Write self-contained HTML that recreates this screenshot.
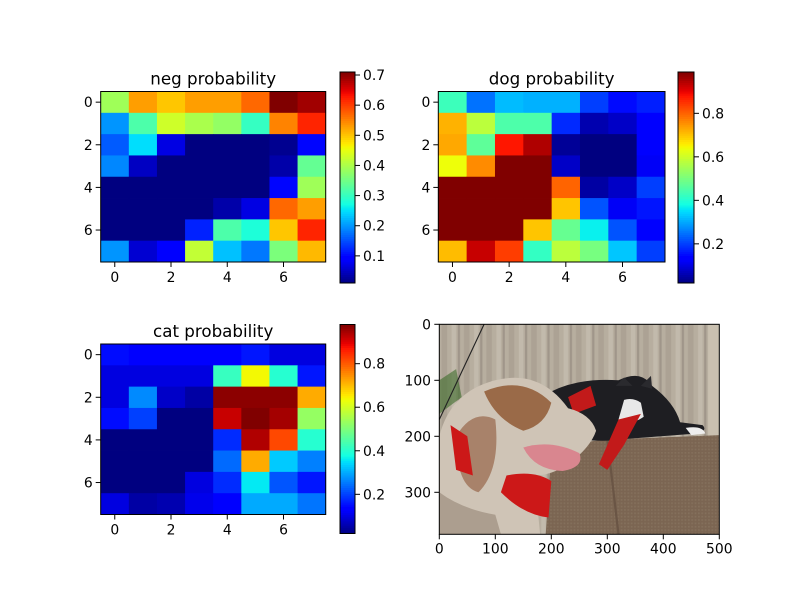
<!DOCTYPE html>
<html><head><meta charset="utf-8"><style>
body{margin:0;background:#fff}
svg{display:block;font-family:"DejaVu Sans","Liberation Sans",sans-serif}
</style></head><body>
<svg id="fig" width="800" height="600" viewBox="0 0 800 600">
<rect width="800" height="600" fill="#fff"/>
<g id="photo-axes">
<svg x="439.3" y="324.3" width="280" height="210" viewBox="0 0 500 375" preserveAspectRatio="none">
<defs>
<pattern id="curt" width="40" height="375" patternUnits="userSpaceOnUse"><rect width="40" height="375" fill="#b7ae9f"/><rect x="4" width="10" height="375" fill="#aca294"/><rect x="22" width="8" height="375" fill="#c2baac"/><rect x="33" width="4" height="375" fill="#a0968a"/></pattern>
<pattern id="couch" width="6" height="6" patternUnits="userSpaceOnUse"><rect width="6" height="6" fill="#7b6552"/><rect width="3" height="3" fill="#84705c"/></pattern>
</defs>
<rect width="500" height="375" fill="url(#curt)"/>
<path d="M480 0 L500 0 L500 375 L480 375Z" fill="#c9c0b0"/>
<path d="M200 230 Q260 205 320 205 L500 198 L500 375 L190 375Z" fill="url(#couch)"/>
<path d="M300 205 L320 375" stroke="#6a5545" stroke-width="4"/>
<path d="M200 120 Q250 95 320 100 Q360 80 380 110 Q420 140 430 175 L470 180 Q480 190 460 195 L330 205 Q260 215 210 190Z" fill="#1e1e22"/>
<path d="M315 110 L330 95 L345 110Z M360 110 L378 92 L380 115Z" fill="#2a2a2e"/>
<path d="M330 135 Q345 130 360 140 L365 165 Q345 180 320 170Z" fill="#e8e8e8"/>
<path d="M440 185 Q470 180 475 195 L450 198Z" fill="#eee"/>
<path d="M230 130 L270 110 L280 145 L240 160Z M320 170 L360 160 L330 215 L300 260 L285 250Z" fill="#c21a1a"/>
<path d="M0 200 Q20 120 100 100 Q180 80 230 150 Q270 160 280 190 Q270 220 230 250 Q200 270 170 270 L180 375 L0 375Z" fill="#cfc4b6"/>
<path d="M80 120 Q150 90 200 140 Q190 180 150 190 Q100 170 80 120Z" fill="#9a6a48"/>
<path d="M30 200 Q60 150 100 170 Q110 260 70 300 Q30 290 30 200Z" fill="#a8826a"/>
<path d="M0 300 Q40 330 100 340 L110 375 L0 375Z" fill="#8a7868" opacity="0.5"/>
<path d="M150 220 Q200 205 250 230 Q260 255 220 262 Q170 260 150 220Z" fill="#d9868f"/>
<path d="M120 270 Q170 260 200 280 L195 345 Q150 340 110 300Z M20 180 L50 200 L60 270 L30 260Z" fill="#cc1818"/>
<path d="M0 100 L30 80 L40 130 L0 160Z" fill="#3c6b2a" opacity="0.6"/>
<path d="M0 170 L80 0" stroke="#222" stroke-width="2"/>
</svg>
<rect x="439.3" y="324.3" width="280" height="210" fill="none" stroke="#000" stroke-width="1"/>
</g>
</svg>
<script>
const negValues=[
[0.39,0.53,0.50,0.53,0.53,0.57,0.71,0.69],
[0.20,0.32,0.43,0.40,0.38,0.30,0.55,0.62],
[0.16,0.25,0.07,0.01,0.01,0.01,0.02,0.10],
[0.19,0.05,0.01,0.01,0.01,0.01,0.035,0.34],
[0.01,0.01,0.01,0.01,0.01,0.01,0.10,0.39],
[0.01,0.01,0.01,0.01,0.035,0.07,0.57,0.53],
[0.01,0.01,0.01,0.12,0.32,0.28,0.50,0.62],
[0.20,0.06,0.09,0.42,0.23,0.18,0.36,0.51]];
const dogValues=[
[0.43,0.25,0.32,0.31,0.31,0.20,0.15,0.17],
[0.72,0.58,0.45,0.45,0.18,0.06,0.08,0.14],
[0.73,0.47,0.88,0.95,0.04,0.02,0.02,0.14],
[0.64,0.76,0.99,0.99,0.08,0.02,0.02,0.12],
[0.99,0.99,0.99,0.99,0.80,0.05,0.08,0.20],
[0.99,0.99,0.99,0.99,0.70,0.22,0.12,0.16],
[0.99,0.99,0.99,0.70,0.48,0.37,0.22,0.14],
[0.71,0.93,0.84,0.42,0.58,0.50,0.33,0.20]];
const catValues=[
[0.15,0.14,0.14,0.13,0.13,0.16,0.10,0.10],
[0.10,0.10,0.10,0.10,0.42,0.64,0.40,0.16],
[0.10,0.27,0.08,0.05,0.97,0.97,0.97,0.72],
[0.15,0.20,0.02,0.02,0.92,0.98,0.95,0.53],
[0.02,0.02,0.02,0.02,0.18,0.94,0.82,0.40],
[0.02,0.02,0.02,0.02,0.24,0.72,0.33,0.26],
[0.02,0.02,0.02,0.10,0.18,0.36,0.22,0.16],
[0.10,0.05,0.06,0.11,0.14,0.30,0.30,0.25]];
const negTicks=[0.1,0.2,0.3,0.4,0.5,0.6,0.7];
const probTicks=[0.2,0.4,0.6,0.8];
const axisTicks=[0,2,4,6];
const photoXTicks=[0,100,200,300,400,500];
const photoYTicks=[0,100,200,300];

const NS='http://www.w3.org/2000/svg';
const fig=document.getElementById('fig');
function mk(tag,attrs,parent){const e=document.createElementNS(NS,tag);for(const k in attrs)e.setAttribute(k,attrs[k]);(parent||fig).appendChild(e);return e;}
function interp(pts,x){for(let i=1;i<pts.length;i++){if(x<=pts[i][0]){const a=pts[i-1],b=pts[i];return a[1]+(b[1]-a[1])*(x-a[0])/(b[0]-a[0]);}}return pts[pts.length-1][1];}
function jet(t){t=Math.max(0,Math.min(1,t));
const r=interp([[0,0],[0.35,0],[0.66,1],[0.89,1],[1,0.5]],t);
const g=interp([[0,0],[0.125,0],[0.375,1],[0.64,1],[0.91,0],[1,0]],t);
const b=interp([[0,0.5],[0.11,1],[0.34,1],[0.65,0],[1,0]],t);
return `rgb(${Math.round(r*255)},${Math.round(g*255)},${Math.round(b*255)})`;}
function txt(x,y,s,anchor,size,parent,name){const t=mk('text',{x:x,y:y,'text-anchor':anchor,'font-size':size,fill:'#000'},parent);t.textContent=s;


return t;}

function heatmap(key,title,vals,ax,cb,ticks){
const g=mk('g',{});


let mn=Infinity,mx=-Infinity;vals.forEach(r=>r.forEach(v=>{mn=Math.min(mn,v);mx=Math.max(mx,v);}));
const n=vals.length,cw=ax.w/n,ch=ax.h/n;
const xs=c=>ax.x+(c+0.5)*cw, ys=r=>ax.y+(r+0.5)*ch;
vals.forEach((row,r)=>row.forEach((v,c)=>{
const rc=mk('rect',{x:xs(c)-cw/2,y:ys(r)-ch/2,width:cw+0.4,height:ch+0.4,fill:jet((v-mn)/(mx-mn))},g);


}));
const fr=mk('rect',{x:ax.x,y:ax.y,width:ax.w,height:ax.h,fill:'none',stroke:'#000','stroke-width':1},g);


axisTicks.forEach(t=>{
mk('line',{x1:xs(t),x2:xs(t),y1:ax.y+ax.h,y2:ax.y+ax.h+5,stroke:'#000'},g);
txt(xs(t),ax.y+ax.h+20,String(t),'middle',13.9,g,key+'-x-tick-label');
mk('line',{x1:ax.x-5,x2:ax.x,y1:ys(t),y2:ys(t),stroke:'#000'},g);
txt(ax.x-8,ys(t)+5,String(t),'end',13.9,g,key+'-y-tick-label');
});
txt(ax.x+ax.w/2,ax.y-7,title,'middle',16.7,g,key+'-title');
const cg=mk('g',{},g);


const steps=100;
for(let i=0;i<steps;i++){mk('rect',{x:cb.x,y:cb.y+cb.h-(i+1)*cb.h/steps,width:cb.w,height:cb.h/steps+0.5,fill:jet((i+0.5)/steps)},cg);}
mk('rect',{x:cb.x,y:cb.y,width:cb.w,height:cb.h,fill:'none',stroke:'#000','stroke-width':1},cg);
const cy=v=>cb.y+cb.h-(v-mn)/(mx-mn)*cb.h;
ticks.forEach(t=>{mk('line',{x1:cb.x+cb.w,x2:cb.x+cb.w+5,y1:cy(t),y2:cy(t),stroke:'#000'},cg);
txt(cb.x+cb.w+8,cy(t)+5,t.toFixed(1),'start',13.9,cg,key+'-colorbar-tick-label');});
}
heatmap('neg','neg probability',negValues,{x:100.7,y:91.5,w:225,h:170.5},{x:340,y:72,w:15,h:211},negTicks);
heatmap('dog','dog probability',dogValues,{x:438.3,y:91.5,w:226.7,h:170.5},{x:678,y:72,w:16,h:211},probTicks);
heatmap('cat','cat probability',catValues,{x:100.7,y:344,w:225,h:170.5},{x:340,y:324.5,w:15,h:209},probTicks);

const pg=document.getElementById('photo-axes');
const px=v=>439.3+v*280/500, py=v=>324.3+v*210/375;
photoXTicks.forEach(t=>{mk('line',{x1:px(t),x2:px(t),y1:534.3,y2:539.3,stroke:'#000'},pg);txt(px(t),553.5,String(t),'middle',13.9,pg,'photo-x-tick-label');});
photoYTicks.forEach(t=>{mk('line',{x1:434.3,x2:439.3,y1:py(t),y2:py(t),stroke:'#000'},pg);txt(431,py(t)+5,String(t),'end',13.9,pg,'photo-y-tick-label');});
</script>
</body></html>
